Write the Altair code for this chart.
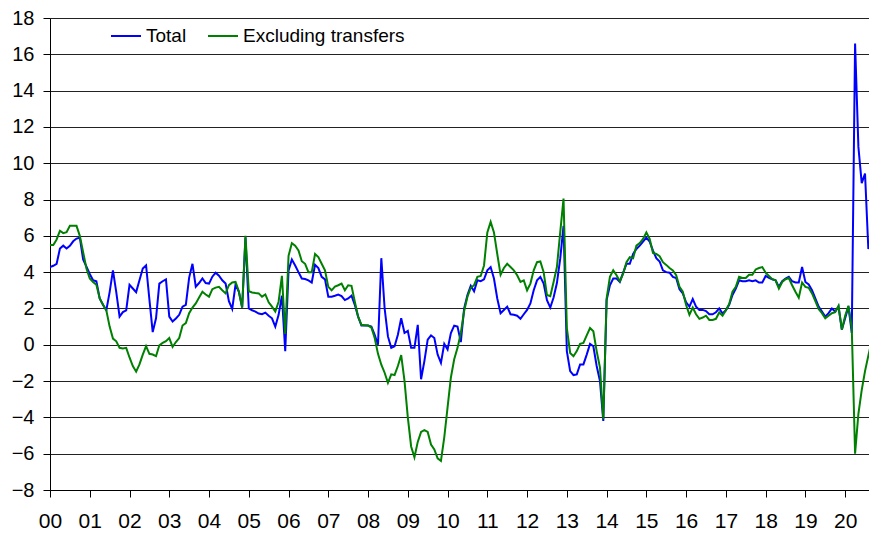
import altair as alt
import pandas as pd

start_year = 2000
series_names = ["Total", "Excluding transfers"]
series_colors = ["#0000FF", "#008000"]
year_ticks = list(range(0, 21))
y_ticks = list(range(-8, 19, 2))

# Monthly year-on-year % change, Jan 2000 - Oct 2020
total = [
    4.28, 4.35, 4.46, 5.3, 5.46, 5.3, 5.45, 5.7, 5.85, 5.9, 4.7, 4.3,      # 2000
    3.9, 3.55, 3.5, 2.55, 2.2, 1.9, 2.9, 4.1, 2.9, 1.55, 1.8, 1.9,          # 2001
    3.3, 3.1, 2.9, 3.55, 4.2, 4.37, 2.5, 0.7, 1.46, 3.37, 3.5, 3.6,         # 2002
    1.55, 1.28, 1.45, 1.65, 2.1, 2.2, 3.7, 4.46, 3.2, 3.4, 3.65, 3.4,       # 2003
    3.37, 3.75, 3.97, 3.8, 3.55, 3.37, 2.4, 1.97, 3.32, 2.92, 2.05, 5.9,    # 2004
    2.0, 1.9, 1.83, 1.72, 1.68, 1.77, 1.6, 1.46, 1.0, 1.65, 2.7, -0.35,     # 2005
    4.1, 4.7, 4.37, 4.0, 3.65, 3.62, 3.55, 3.43, 4.4, 4.22, 3.74, 3.6,      # 2006
    2.65, 2.65, 2.7, 2.77, 2.68, 2.46, 2.55, 2.7, 2.2, 1.55, 1.06, 1.06,    # 2007
    1.06, 1.0, 0.55, 0.0, 4.77, 2.0, 0.46, -0.17, -0.08, 0.55, 1.46, 0.65,  # 2008
    0.77, -0.17, -0.17, 1.1, -1.9, -0.9, 0.28, 0.52, 0.37, -0.54, -1.0, 0.05,  # 2009
    -0.26, 0.65, 1.05, 1.0, 0.15, 2.0, 2.74, 3.25, 2.95, 3.55, 3.5, 3.6,    # 2010
    4.1, 4.28, 3.65, 2.55, 1.74, 1.92, 2.1, 1.68, 1.65, 1.6, 1.43, 1.68,    # 2011
    1.92, 2.28, 3.0, 3.55, 3.74, 3.37, 2.46, 2.05, 2.6, 3.4, 4.74, 6.55,    # 2012
    -0.35, -1.45, -1.67, -1.63, -1.08, -1.08, -0.54, 0.05, -0.08, -1.17, -2.0, -4.2,  # 2013
    2.46, 3.28, 3.65, 3.65, 3.46, 3.97, 4.46, 4.46, 5.0, 5.28, 5.46, 5.68,  # 2014
    5.9, 5.68, 5.19, 4.77, 4.59, 4.1, 4.0, 3.97, 3.74, 3.68, 3.06, 2.83,    # 2015
    2.34, 2.1, 2.52, 2.1, 1.92, 1.92, 1.86, 1.68, 1.68, 1.79, 2.0, 1.72,    # 2016
    1.9, 2.2, 2.74, 3.1, 3.55, 3.5, 3.5, 3.55, 3.5, 3.55, 3.43, 3.43,       # 2017
    3.79, 3.68, 3.61, 3.55, 3.19, 3.5, 3.65, 3.74, 3.5, 3.43, 3.43, 4.28,   # 2018
    3.46, 3.32, 3.0, 2.55, 2.1, 1.83, 1.55, 1.74, 2.0, 1.83, 2.1, 0.83,     # 2019
    1.46, 2.1, 0.65, 16.6, 10.9, 8.9, 9.43, 5.28, 5.74, 4.37,               # 2020
]
excluding_transfers = [
    5.5, 5.5, 5.8, 6.28, 6.15, 6.2, 6.55, 6.55, 6.55, 6.0, 5.1, 4.2,        # 2000
    3.65, 3.46, 3.3, 2.55, 2.2, 1.9, 1.0, 0.34, 0.19, -0.17, -0.2, -0.17,   # 2001
    -0.7, -1.17, -1.48, -1.08, -0.54, -0.08, -0.5, -0.54, -0.63, -0.03, 0.1, 0.2,  # 2002
    0.37, -0.12, 0.15, 0.37, 1.06, 1.19, 1.74, 2.05, 2.28, 2.6, 2.92, 2.77,  # 2003
    2.65, 3.06, 3.15, 3.19, 3.0, 2.83, 3.28, 3.43, 3.46, 2.95, 2.05, 6.0,   # 2004
    2.95, 2.88, 2.85, 2.83, 2.65, 2.77, 2.34, 2.1, 1.83, 2.37, 3.8, 0.6,    # 2005
    4.9, 5.6, 5.46, 5.2, 4.6, 4.46, 4.0, 4.0, 5.0, 4.83, 4.46, 4.1,         # 2006
    3.19, 3.0, 3.2, 3.28, 3.37, 3.0, 3.28, 3.25, 2.37, 1.55, 1.1, 1.08,     # 2007
    1.06, 0.95, 0.37, -0.5, -1.1, -1.54, -2.1, -1.63, -1.67, -1.17, -0.57, -1.99,  # 2008
    -4.0, -5.6, -6.2, -5.35, -4.8, -4.7, -4.8, -5.5, -5.77, -6.26, -6.4, -5.1,  # 2009
    -3.45, -1.8, -0.8, -0.17, 0.65, 1.86, 2.65, 3.14, 3.28, 3.74, 3.79, 4.37,  # 2010
    6.19, 6.77, 6.19, 5.0, 3.86, 4.23, 4.46, 4.28, 4.1, 3.83, 3.46, 3.55,   # 2011
    3.0, 3.37, 4.1, 4.55, 4.59, 4.0, 2.74, 2.68, 3.46, 4.28, 6.19, 8.05,    # 2012
    0.92, -0.45, -0.63, -0.35, 0.05, 0.1, 0.52, 0.92, 0.74, -0.35, -1.26, -4.1,  # 2013
    2.55, 3.74, 4.1, 3.83, 3.5, 3.92, 4.55, 4.83, 4.77, 5.46, 5.6, 5.83,    # 2014
    6.19, 5.83, 5.06, 5.0, 4.88, 4.55, 4.4, 4.23, 4.1, 3.83, 3.19, 2.92,    # 2015
    2.19, 1.65, 2.05, 1.68, 1.43, 1.5, 1.6, 1.37, 1.37, 1.43, 1.78, 1.6,    # 2016
    1.9, 2.25, 2.92, 3.19, 3.74, 3.68, 3.68, 3.86, 3.86, 4.15, 4.23, 4.28,  # 2017
    3.97, 3.79, 3.61, 3.55, 3.1, 3.46, 3.61, 3.68, 3.28, 2.92, 2.59, 3.43,  # 2018
    3.19, 3.14, 2.83, 2.41, 1.97, 1.74, 1.46, 1.6, 1.74, 1.79, 2.15, 0.83,  # 2019
    1.6, 2.15, 0.9, -6.0, -3.8, -2.5, -1.45, -0.6, 0.2, 0.9,                # 2020
]

rows = []
for name, values in zip(series_names, [total, excluding_transfers]):
    for i, v in enumerate(values):
        rows.append({"series": name, "t": i / 12.0, "value": v})
df = pd.DataFrame(rows)

FONT = "Liberation Sans"

color = alt.Color(
    "series:N",
    scale=alt.Scale(domain=series_names, range=series_colors),
    title=None,
    legend=alt.Legend(
        orient="none", legendX=60, legendY=2, direction="horizontal",
        symbolType="stroke", symbolSize=900, symbolStrokeWidth=2,
        labelFontSize=19, labelFont=FONT, labelColor="black",
        labelOffset=4, columnPadding=17, padding=0, labelLimit=400,
    ),
)

x = alt.X(
    "t:Q",
    scale=alt.Scale(domain=[0, 20.6], nice=False, zero=False),
    title=None,
    axis=alt.Axis(
        values=year_ticks, grid=False, domainColor="black", domainWidth=1,
        tickColor="black", tickSize=7, labelFontSize=21, labelFont=FONT,
        labelColor="black", labelPadding=13, labelFlush=False,
        labelExpr="datum.value < 10 ? '0' + datum.value : '' + datum.value",
    ),
)
y = alt.Y(
    "value:Q",
    scale=alt.Scale(domain=[-8, 18], nice=False, zero=False),
    title=None,
    axis=alt.Axis(
        values=y_ticks, grid=True, gridColor="#222222", gridWidth=1,
        domainColor="black", domainWidth=1, tickColor="black", tickSize=7,
        labelFontSize=20, labelFont=FONT, labelColor="black", labelPadding=9,
        labelFlush=False,
    ),
)

base = alt.Chart(df)
blue = base.transform_filter(alt.datum.series == series_names[0]).mark_line(strokeWidth=2, clip=True).encode(x=x, y=y, color=color)
green = base.transform_filter(alt.datum.series == series_names[1]).mark_line(strokeWidth=2, clip=True).encode(x=x, y=y, color=color)

chart = alt.layer(blue, green).properties(
    width=819, height=472,
    autosize=alt.AutoSizeParams(type="none"),
    padding={"left": 42, "top": 10, "right": 0, "bottom": 41},
).configure_view(strokeWidth=0).configure(background="white")

chart.save("out.html", embed_options={"renderer": "svg", "actions": False})
